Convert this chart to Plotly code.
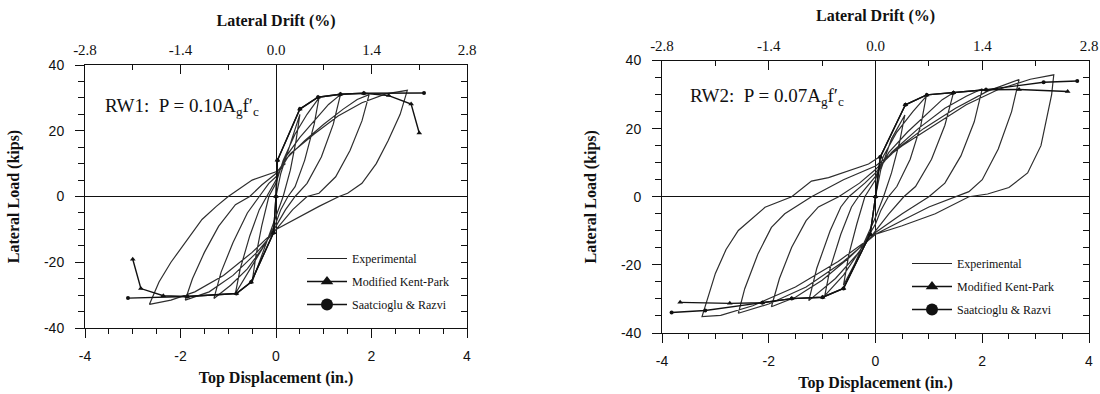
import plotly.graph_objects as go

# ---------------- DATA ----------------
DISP_TICKS = [-4, -2, 0, 2, 4]
DISP_TICK_TEXT = ["-4", "-2", "0", "2", "4"]
DRIFT_TICKS = [-2.8, -1.4, 0.0, 1.4, 2.8]
DRIFT_TICK_TEXT = ["-2.8", "-1.4", "0.0", "1.4", "2.8"]
LOAD_TICKS = [-40, -20, 0, 20, 40]
LOAD_TICK_TEXT = ["-40", "-20", "0", "20", "40"]

# RW1 experimental hysteresis (top displacement in., lateral load kips)
RW1_EXP_DISP = [0, 0.1, 0.3, 0.5, 0.42, 0.3, 0.15, 0, -0.15, -0.35, -0.5, -0.42, -0.3, -0.15, 0,
                0.15, 0.4, 0.65, 0.9, 0.8, 0.6, 0.4, 0.25, 0.1, 0, -0.25, -0.5, -0.7, -0.85, -0.75, -0.55, -0.35, -0.2, 0,
                0.2, 0.5, 0.8, 1.1, 1.35, 1.2, 0.95, 0.65, 0.4, 0.2, 0, -0.3, -0.6, -0.95, -1.3, -1.15, -0.9, -0.6, -0.35, -0.15, 0,
                0.25, 0.6, 1.0, 1.4, 1.7, 1.95, 1.8, 1.55, 1.25, 0.9, 0.65, 0.35, 0, -0.4, -0.9, -1.4, -1.9, -1.75, -1.5, -1.2, -0.85, -0.55, -0.3, 0,
                0.3, 0.8, 1.3, 1.8, 2.3, 2.75, 2.6, 2.35, 2.1, 1.8, 1.5, 1.32, 0.9, 0.45, 0, -0.5, -1.1, -1.7, -2.2, -2.65, -2.45, -2.2, -1.9, -1.55, -1.25, -1.0, -0.5, 0, 0.2]
RW1_EXP_LOAD = [0, 7, 16, 25, 17, 8, 0, -6, -12, -20, -26, -18, -9, 0, 4,
                11, 19, 25, 30, 22, 11, 3, 0, -4, -8, -15, -21, -26, -29.5, -22, -12, -4, 0, 5,
                12, 18, 23, 28, 31, 22, 12, 4, 0, -4, -9, -16, -22, -27, -31, -23, -14, -5, 0, 4, 6,
                12, 17, 22, 26.5, 29.5, 31, 23, 14, 6, 1, 0, -4, -10, -17, -24, -29, -31.5, -25, -17, -9, -2.5, 0, 3.5, 7,
                13, 19, 24.5, 28.5, 31.2, 32.3, 25, 17, 10, 4, 1, 0, -3, -6.5, -10, -17, -24, -29, -31.5, -32.8, -26, -20, -14, -7, -3, 0, 5, 7.5, 10]

# RW1 analytical envelopes
RW1_KP_DISP = [-3.0, -2.83, -2.36, -1.86, -0.83, -0.52, -0.05, 0, 0.03, 0.5, 0.88, 1.35, 1.84, 2.36, 2.83, 3.0]
RW1_KP_LOAD = [-19.1, -28.0, -30.2, -30.4, -29.5, -26.0, -11, 0, 11, 26.6, 30.2, 31.1, 31.4, 30.7, 28.1, 19.3]
RW1_SR_DISP = [-3.1, -1.86, -0.83, -0.52, -0.05, 0, 0.03, 0.5, 0.88, 1.35, 1.84, 3.1]
RW1_SR_LOAD = [-30.9, -30.4, -29.5, -26.0, -11, 0, 11, 26.6, 30.2, 31.1, 31.4, 31.5]

# RW2 experimental hysteresis
RW2_EXP_DISP = [0, 0.1, 0.3, 0.55, 0.45, 0.3, 0.15, 0, -0.2, -0.4, -0.6, -0.5, -0.35, -0.2, 0,
                0.15, 0.4, 0.7, 0.95, 0.85, 0.65, 0.4, 0.24, 0.1, 0, -0.3, -0.6, -0.95, -0.85, -0.65, -0.45, -0.32, 0,
                0.25, 0.6, 1.0, 1.25, 1.46, 1.3, 1.05, 0.75, 0.53, 0.25, 0, -0.35, -0.75, -1.05, -1.25, -1.1, -0.85, -0.65, -0.5, -0.2, 0,
                0.3, 0.8, 1.3, 1.7, 2.0, 1.85, 1.6, 1.3, 1.0, 0.5, 0, -0.5, -1.0, -1.5, -1.95, -1.8, -1.57, -1.3, -1.07, -0.69, -0.3, 0,
                0.4, 0.9, 1.5, 2.1, 2.69, 2.55, 2.3, 2.0, 1.75, 1.5, 1.0, 0.5, 0, -0.6, -1.3, -2.0, -2.57, -2.45, -2.2, -1.95, -1.7, -1.2, -0.6, 0,
                0.5, 1.1, 1.7, 2.3, 2.9, 3.34, 3.3, 3.1, 2.85, 2.5, 2.1, 1.75, 1.12, 0.5, 0, -0.7, -1.5, -2.3, -2.9, -3.25, -3.15, -3.0, -2.8, -2.57, -2.07, -1.57, -1.2, -0.88, -0.13, 0.1]
RW2_EXP_LOAD = [0, 8, 17, 24, 16, 7, 0, -6, -13, -20, -26, -17, -8, 0, 5,
                12, 19, 25, 29.5, 21, 11, 3, 0, -4, -8, -16, -23, -29, -21, -11, -3, 0, 6,
                13, 19, 25, 28.5, 30.5, 21, 11, 3, 0, -5, -10, -17, -24, -28, -30.5, -21, -10, -3, 0, 4, 7,
                13, 20, 26, 29.5, 31.7, 22, 12, 4, 0, -5, -10.5, -18, -24.5, -29.5, -32.3, -24, -14.8, -7, -3, 0, 4, 8,
                14, 20, 26, 31, 34.4, 25, 14, 5, 1.5, 0, -3, -7, -11, -19, -26.5, -31.5, -34.2, -27, -16.7, -9, -5, 0, 5, 9,
                15, 21, 27, 31.5, 34.5, 35.8, 30, 15, 7, 2.7, 0.8, 0, -5, -8.5, -11, -19, -26.5, -32, -34.8, -35.2, -30, -22.5, -15.5, -9.9, -3.1, 0, 4.6, 5.6, 9.6, 12]

# RW2 analytical envelopes
RW2_KP_DISP = [-3.66, -2.73, -2.12, -1.57, -0.99, -0.6, -0.1, 0, 0.09, 0.56, 0.96, 1.46, 2.07, 2.69, 3.6]
RW2_KP_LOAD = [-31.0, -31.3, -31.1, -29.9, -29.5, -26.9, -11, 0, 11.7, 27.0, 29.9, 30.5, 31.4, 31.5, 30.9]
RW2_SR_DISP = [-3.82, -3.19, -2.12, -1.57, -0.99, -0.6, -0.1, 0, 0.09, 0.56, 0.96, 1.46, 2.07, 3.15, 3.78]
RW2_SR_LOAD = [-34.0, -33.4, -31.1, -29.9, -29.5, -26.9, -11, 0, 11.7, 27.0, 29.9, 30.5, 31.4, 33.6, 34.0]

PANEL_LABELS = ["RW1:  P = 0.10A<sub>g</sub>f′<sub>c</sub>", "RW2:  P = 0.07A<sub>g</sub>f′<sub>c</sub>"]
LEGEND_NAMES = ["Experimental", "Modified Kent-Park", "Saatcioglu &amp; Razvi"]

# ---------------- FIGURE ----------------
SERIF = "Liberation Serif"
SANS = "Liberation Sans"
fig = go.Figure()

panels = [
    dict(xb="x", yl="y", xt="x2", yr="y2", leg="legend",
         ed=RW1_EXP_DISP, el=RW1_EXP_LOAD, kd=RW1_KP_DISP, kl=RW1_KP_LOAD, sd=RW1_SR_DISP, sl=RW1_SR_LOAD),
    dict(xb="x3", yl="y3", xt="x4", yr="y4", leg="legend2",
         ed=RW2_EXP_DISP, el=RW2_EXP_LOAD, kd=RW2_KP_DISP, kl=RW2_KP_LOAD, sd=RW2_SR_DISP, sl=RW2_SR_LOAD),
]

for p in panels:
    fig.add_trace(go.Scatter(x=p["ed"], y=p["el"], mode="lines", xaxis=p["xb"], yaxis=p["yl"],
                             line=dict(color="#2e2e2e", width=1.2), showlegend=False, hoverinfo="skip"))
    fig.add_trace(go.Scatter(x=p["kd"], y=p["kl"], mode="lines+markers", xaxis=p["xb"], yaxis=p["yl"],
                             line=dict(color="#111111", width=1.4),
                             marker=dict(symbol="triangle-up", size=5, color="#111111"),
                             showlegend=False))
    fig.add_trace(go.Scatter(x=p["sd"], y=p["sl"], mode="lines+markers", xaxis=p["xb"], yaxis=p["yl"],
                             line=dict(color="#111111", width=1.4),
                             marker=dict(symbol="circle", size=4, color="#111111"),
                             showlegend=False))
    # legend entries
    fig.add_trace(go.Scatter(x=[None], y=[None], mode="lines", name=LEGEND_NAMES[0], legend=p["leg"],
                             legendgroup=p["leg"] + "a", xaxis=p["xb"], yaxis=p["yl"],
                             line=dict(color="#222", width=1.2)))
    fig.add_trace(go.Scatter(x=[None], y=[None], mode="lines+markers", name=LEGEND_NAMES[1], legend=p["leg"],
                             legendgroup=p["leg"] + "b", xaxis=p["xb"], yaxis=p["yl"],
                             line=dict(color="#111", width=1.5),
                             marker=dict(symbol="triangle-up", size=11, color="#111")))
    fig.add_trace(go.Scatter(x=[None], y=[None], mode="lines+markers", name=LEGEND_NAMES[2], legend=p["leg"],
                             legendgroup=p["leg"] + "c", xaxis=p["xb"], yaxis=p["yl"],
                             line=dict(color="#111", width=1.5),
                             marker=dict(symbol="circle", size=12, color="#111")))
    # dummy trace so the top/right axes render
    fig.add_trace(go.Scatter(x=[None], y=[None], xaxis=p["xt"], yaxis=p["yr"], showlegend=False, hoverinfo="skip"))

W, H = 1100, 394
L_DOM_X = [85 / W, 467 / W]
L_DOM_Y = [1 - 328 / H, 1 - 65 / H]
R_DOM_X = [662 / W, 1089 / W]
R_DOM_Y = [1 - 333 / H, 1 - 60.5 / H]

tickfont_sans = dict(family=SANS, size=14, color="#111")
tickfont_serif = dict(family=SERIF, size=15, color="#111")
title_font = dict(family=SERIF, size=16, color="#111", weight="bold")


def bottom_x(domain, anchor):
    return dict(domain=domain, anchor=anchor, range=[-4, 4], tickvals=DISP_TICKS, ticktext=DISP_TICK_TEXT,
                ticks="outside", ticklen=9, tickwidth=1, tickcolor="#111", ticklabelstandoff=6,
                minor=dict(dtick=0.5, ticks="outside", ticklen=5, tickcolor="#111", showgrid=False),
                showline=True, linecolor="#111", linewidth=1, mirror=False, showgrid=False,
                zeroline=True, zerolinecolor="#111", zerolinewidth=1,
                tickfont=tickfont_sans,
                title=dict(text="Top Displacement (in.)", font=title_font, standoff=9), automargin=False)


def top_x(overlay, anchor):
    return dict(overlaying=overlay, anchor=anchor, side="top", range=[-2.8, 2.8],
                tickvals=DRIFT_TICKS, ticktext=DRIFT_TICK_TEXT,
                ticks="inside", ticklen=9, tickwidth=1, tickcolor="#111", ticklabelstandoff=3,
                minor=dict(dtick=0.7, ticks="inside", ticklen=5, tickcolor="#111", showgrid=False),
                showline=True, linecolor="#111", linewidth=1, showgrid=False, zeroline=False,
                tickfont=tickfont_serif,
                title=dict(text="Lateral Drift (%)", font=title_font, standoff=11), automargin=False)


def left_y(domain, anchor):
    return dict(domain=domain, anchor=anchor, range=[-40, 40], tickvals=LOAD_TICKS, ticktext=LOAD_TICK_TEXT,
                ticks="outside", ticklen=9, tickwidth=1, tickcolor="#111", ticklabelstandoff=8,
                minor=dict(dtick=5, ticks="outside", ticklen=6, tickcolor="#111", showgrid=False),
                showline=True, linecolor="#111", linewidth=1, mirror=False, showgrid=False,
                zeroline=True, zerolinecolor="#111", zerolinewidth=1,
                tickfont=tickfont_sans,
                title=dict(text="Lateral Load (kips)", font=title_font, standoff=20), automargin=False)


def right_y(overlay, anchor):
    return dict(overlaying=overlay, anchor=anchor, side="right", range=[-40, 40],
                tickvals=LOAD_TICKS, showticklabels=False,
                ticks="inside", ticklen=6, tickwidth=1, tickcolor="#111",
                minor=dict(dtick=5, ticks="inside", ticklen=6, tickcolor="#111", showgrid=False),
                showline=True, linecolor="#111", linewidth=1, showgrid=False, zeroline=False)


legend_common = dict(font=dict(family=SERIF, size=12, color="#111"), bgcolor="rgba(0,0,0,0)",
                     borderwidth=0, tracegroupgap=4, itemwidth=40, xanchor="left", yanchor="top")

fig.update_layout(
    width=W, height=H, autosize=False,
    margin=dict(l=0, r=0, t=0, b=0),
    paper_bgcolor="white", plot_bgcolor="white",
    xaxis=bottom_x(L_DOM_X, "y"),
    xaxis2=top_x("x", "y"),
    yaxis=left_y(L_DOM_Y, "x"),
    yaxis2=right_y("y", "x"),
    xaxis3=bottom_x(R_DOM_X, "y3"),
    xaxis4=top_x("x3", "y3"),
    yaxis3=left_y(R_DOM_Y, "x3"),
    yaxis4=right_y("y3", "x3"),
    legend=dict(x=302 / W, y=1 - 244 / H, **legend_common),
    legend2=dict(x=907 / W, y=1 - 249 / H, **legend_common),
    showlegend=True,
    annotations=[
        dict(text=PANEL_LABELS[0], x=103 / W, y=1 - 107 / H, xref="paper", yref="paper",
             xanchor="left", yanchor="middle", showarrow=False,
             font=dict(family=SERIF, size=19, color="#111")),
        dict(text=PANEL_LABELS[1], x=688 / W, y=1 - 97 / H, xref="paper", yref="paper",
             xanchor="left", yanchor="middle", showarrow=False,
             font=dict(family=SERIF, size=19, color="#111")),
    ],
)

fig.write_html("out.html")
